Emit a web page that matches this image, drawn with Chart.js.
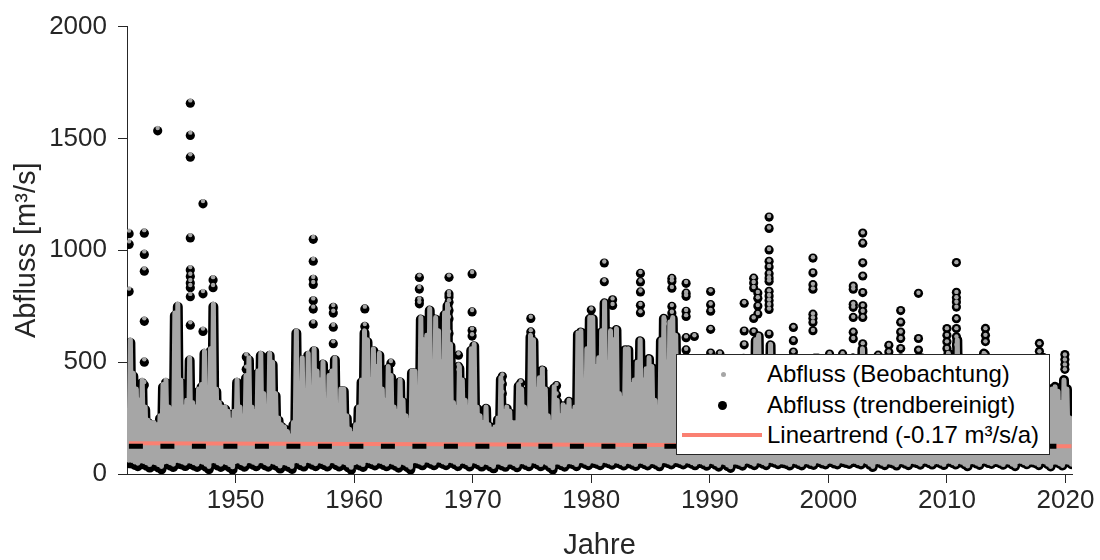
<!DOCTYPE html>
<html>
<head>
<meta charset="utf-8">
<script src="https://cdn.jsdelivr.net/npm/chart.js@4.4.1/dist/chart.umd.min.js"></script>
<style>
  html, body { margin: 0; padding: 0; background: #ffffff; }
  #wrap { position: relative; width: 1100px; height: 560px; overflow: hidden; }
  #c { position: absolute; left: 0; top: 0; }
  #legend { position: absolute; left: 676px; top: 354px; width: 374px; height: 101px; box-sizing: border-box;
            background: #ffffff; border: 1px solid #262626; font-family: "Liberation Sans", Arial, sans-serif;
            font-size: 24px; color: #000000; }
  #legend .txt { position: absolute; left: 90px; height: 30px; line-height: 30px; white-space: nowrap; }
  #legend .mk { position: absolute; border-radius: 50%; }
</style>
</head>
<body>
<div id="wrap">
  <canvas id="c" width="1100" height="560"></canvas>
  <div id="legend">
    <div class="mk" style="left:43.5px;top:16.5px;width:5px;height:5px;background:#a6a6a6;"></div>
    <div class="txt" style="top:4px;">Abfluss (Beobachtung)</div>
    <div class="mk" style="left:40.5px;top:45.5px;width:9px;height:9px;background:#000000;"></div>
    <div class="txt" style="top:35px;">Abfluss (trendbereinigt)</div>
    <div style="position:absolute;left:5px;top:78px;width:80px;height:4px;background:#fa8072;"></div>
    <div class="txt" style="top:65px;">Lineartrend (-0.17 m³/s/a)</div>
  </div>
</div>
<script>
// ---------------- data ----------------
const startYear = 1941;
const xTickValues = [1950, 1960, 1970, 1980, 1990, 2000, 2010, 2020];
const yTickValues = [0, 500, 1000, 1500, 2000];

// linear trend (legend: -0.17 m³/s per year)
const trendSlope = -0.17;
const trendYears = [1941.0, 2020.5];
const trendValues = [137, 123.5];
const detrendedMean = 124;

// seasonal high flows per year: [Jan-Mar, Apr-Jun, Jul-Sep, Oct-Dec]
const spikes1940s = [
  600,450,380,330,  420,300,240,230,  230,220,260,400,  420,300,280,720,  760,420,300,330,
  520,320,300,380,  400,550,320,560,  760,380,320,300,  300,280,240,280
];
const spikes1950s = [
  420,300,260,440,  520,300,280,460,  540,360,300,540,  500,360,250,220,  210,190,170,230,
  640,380,520,350,  540,380,560,460,  420,500,330,440,  460,520,300,380,  380,260,200,180
];
const spikes1960s = [
  220,300,420,640,  600,420,560,480,  540,380,330,480,  440,300,280,420,  330,260,240,460,
  460,380,700,600,  620,740,450,700,  640,500,720,760,  580,320,300,480,  420,330,300,560
];
const spikes1970s = [
  580,300,260,230,  300,220,200,210,  250,430,280,300,  280,230,230,400,  380,300,280,620,
  600,380,430,470,  380,260,230,390,  330,260,310,300,  330,280,300,630,  640,400,560,700
];
const spikes1980s = [
  700,480,520,640,  770,500,640,600,  650,360,340,560,  560,400,420,500,  600,420,470,520,
  480,330,300,600,  700,500,680,700,  620,480,400,520,  520,460,380,450,  420,360,320,450
];
const spikes1990s = [
  520,400,330,380,  400,330,300,380,  380,320,300,520,  500,420,360,600,  620,480,400,480,
  580,480,380,450,  420,360,320,420,  520,400,340,440,  480,380,340,520,  520,440,380,460
];
const spikes2000s = [
  520,420,360,480,  520,420,380,500,  520,420,360,560,  520,380,280,420,  520,400,340,400,
  520,380,340,380,  520,400,330,420,  480,380,340,520,  480,400,360,440,  460,380,320,460
];
const spikes2010s = [
  540,400,360,600,  520,380,320,380,  480,360,320,450,  540,420,340,400,  460,360,320,400,
  480,360,300,350,  480,400,320,380,  400,330,300,480,  520,380,300,380,  390,370,320,420
];
const spikes2020 = [380, 250];

// low flows between the high flows: [1 Jan, 1 Apr, 1 Jul, 1 Oct]
const troughs1940s = [
  62,60,54,48,  58,56,50,42,  52,50,42,34,  54,56,50,44,  60,58,54,48,
  58,56,50,44,  56,52,44,34,  58,58,50,44,  54,50,42,32
];
const troughs1950s = [
  56,58,50,44,  58,58,52,46,  58,58,50,44,  56,52,46,36,  50,48,42,34,
  58,58,50,44,  60,58,52,46,  58,56,50,44,  58,58,50,44,  54,50,40,30
];
const troughs1960s = [
  50,54,48,42,  60,58,54,48,  58,56,50,44,  56,52,46,38,  52,48,40,30,
  58,58,54,48,  62,60,54,48,  62,60,54,48,  60,58,52,44,  56,56,50,42
];
const troughs1970s = [
  58,56,50,42,  52,50,42,34,  52,52,46,40,  52,52,46,38,  54,54,48,42,
  58,56,50,42,  54,48,38,28,  52,52,46,40,  54,54,50,42,  58,58,52,46
];
const troughs1980s = [
  58,56,52,46,  60,58,54,48,  58,56,50,44,  56,54,48,42,  56,56,50,44,
  54,54,48,40,  58,58,54,48,  58,58,54,48,  58,56,50,44,  54,54,48,42
];
const troughs1990s = [
  56,54,46,38,  52,50,40,32,  52,52,48,42,  56,56,50,44,  58,56,50,44,
  60,58,54,48,  54,52,48,42,  56,54,48,42,  54,54,48,44,  58,56,50,46
];
const troughs2000s = [
  56,56,50,46,  58,56,52,48,  56,56,50,46,  58,54,44,34,  54,54,48,42,
  54,52,48,40,  54,54,48,42,  56,54,50,44,  56,56,50,44,  54,54,48,42
];
const troughs2010s = [
  56,56,50,44,  56,52,44,36,  54,54,48,42,  56,56,50,46,  54,54,48,42,
  54,52,44,36,  56,56,50,44,  52,52,48,40,  56,54,44,34,  52,52,46,38
];
const troughs2020 = [54, 52, 44];

// isolated flood peaks standing above the dense cloud
const eventYears = [
  1941.02, 1942.30, 1943.43, 1946.18, 1947.25, 1948.10, 1950.90, 1956.55, 1958.24, 1960.90,
  1963.10, 1965.50, 1968.00, 1968.80, 1969.95, 1972.50, 1974.05, 1974.90, 1975.90, 1977.07,
  1980.00, 1981.10, 1981.80, 1984.15, 1986.20, 1986.80, 1988.00, 1988.70, 1990.07, 1990.85,
  1992.90, 1993.70, 1994.05, 1995.00, 1997.05, 1998.70, 2000.10, 2001.20, 2002.10, 2002.90,
  2004.20, 2005.10, 2006.10, 2007.60, 2010.00, 2010.80, 2013.25, 2017.80, 2019.95
];
const eventPeaks = [
  [1088,1040,829], [1090,995,920,696,513,411], [1547], [1670,1526,1429,1068,925,895,867,845,805,678],
  [1220,818,650], [880,845], [535,480], [1060,962,881,858,785,748,681], [755,730,667,593], [748,670],
  [505,432], [888,836,785,770], [888,814,800,777,740,703,637], [540,490,467], [903,733,650,625],
  [445,410,368], [415,357], [703,643], [470], [402,360],
  [740,700], [950,866], [785,760], [903,865,820,760,727], [688,672], [880,866,836,755,725,690],
  [858,814,800,733,710,615,560], [620], [821,762,733,652,546], [542],
  [768,644,582], [880,858,836,700,640], [814,790,755,720,610],
  [1153,1102,1006,955,930,900,880,866,821,800,780,760,740,630], [659,600,549],
  [969,903,850,830,718,700,681,644], [540], [540], [843,829,762,748,703,637,608],
  [1080,1035,947,888,814,755,730,703,585],
  [534], [578,548], [733,681,637,608,563], [810,608,556], [652,622,593,563],
  [947,814,790,770,748,696,652,615,578], [652,622,593,534], [585,549], [534,512,490,468]
];

// ---------------- build series ----------------
const spikes = [].concat(spikes1940s, spikes1950s, spikes1960s, spikes1970s,
                         spikes1980s, spikes1990s, spikes2000s, spikes2010s, spikes2020);
const troughs = [].concat(troughs1940s, troughs1950s, troughs1960s, troughs1970s,
                          troughs1980s, troughs1990s, troughs2000s, troughs2010s, troughs2020);
const obsMass = [];
for (let i = 0; i < troughs.length; i++) {
  const t = startYear + i / 4;
  obsMass.push({ x: t, y: troughs[i] });
  if (i < spikes.length) obsMass.push({ x: t + 1 / 8, y: spikes[i] });
}
const obsPeaks = [];
eventYears.forEach((t, k) => eventPeaks[k].forEach(v => obsPeaks.push({ x: t, y: v })));

const tEnd = trendYears[1];
const detrend = p => ({ x: p.x, y: p.y - trendSlope * (p.x - tEnd) });
const detMass = obsMass.map(detrend);
const detPeaks = obsPeaks.map(detrend);
const trendLine = trendYears.map((t, i) => ({ x: t, y: trendValues[i] }));
const meanLine = trendYears.map(t => ({ x: t, y: detrendedMean }));

// ---------------- chart ----------------
const FONT = '"Liberation Sans", Arial, sans-serif';
const AX = '#262626';
const GRAY = '#a6a6a6';
const SOLID = [1000000, 1];   // one continuous dash: keeps every vertex of the dense series
Chart.defaults.font.family = FONT;
Chart.defaults.color = AX;

new Chart(document.getElementById('c'), {
  type: 'scatter',
  data: {
    datasets: [
      { label: 'mean', data: meanLine, showLine: true, pointRadius: 0, borderColor: '#000000',
        borderWidth: 5, borderDash: [14, 17.5], borderCapStyle: 'butt' },
      { label: 'Lineartrend (-0.17 m³/s/a)', data: trendLine, showLine: true, pointRadius: 0,
        borderColor: '#fa8072', borderWidth: 4 },
      { label: 'Abfluss (Beobachtung) peaks', data: obsPeaks, showLine: false, pointRadius: 2.2,
        pointBorderWidth: 0, backgroundColor: GRAY, borderColor: GRAY },
      { label: 'Abfluss (Beobachtung)', data: obsMass, showLine: true, pointRadius: 0,
        borderColor: GRAY, borderWidth: 5, borderDash: SOLID,
        borderJoinStyle: 'round', borderCapStyle: 'round', tension: 0 },
      { label: 'Abfluss (trendbereinigt) peaks', data: detPeaks, showLine: false, pointRadius: 4.6,
        pointBorderWidth: 0, backgroundColor: '#000000', borderColor: '#000000' },
      { label: 'Abfluss (trendbereinigt)', data: detMass, showLine: true, pointRadius: 0,
        borderColor: '#000000', borderWidth: 10, borderDash: SOLID,
        borderJoinStyle: 'round', borderCapStyle: 'round', tension: 0 }
    ]
  },
  options: {
    responsive: false,
    animation: false,
    devicePixelRatio: 1,
    layout: { padding: { left: 0, right: 28, top: 22, bottom: 0 } },
    plugins: { legend: { display: false }, tooltip: { enabled: false } },
    scales: {
      x: {
        type: 'linear', min: 1940.84, max: 2020.55,
        afterBuildTicks: s => { s.ticks = xTickValues.map(v => ({ value: v })); },
        afterFit: s => { s.height = 86; },
        ticks: { color: AX, font: { size: 26, family: FONT }, padding: 2, maxRotation: 0, autoSkip: false,
                 callback: v => String(v) },
        grid: { drawOnChartArea: false, drawTicks: true, tickLength: 9, color: AX, lineWidth: 1 },
        border: { display: true, color: AX, width: 1 },
        title: { display: true, text: 'Jahre', color: AX, font: { size: 29, family: FONT, lineHeight: 1 },
                 padding: { top: 0, bottom: 0 } }
      },
      y: {
        type: 'linear', min: 0, max: 2000,
        afterBuildTicks: s => { s.ticks = yTickValues.map(v => ({ value: v })); },
        afterFit: s => { s.width = 127; },
        ticks: { color: AX, font: { size: 26, family: FONT }, padding: 11, callback: v => String(v) },
        grid: { drawOnChartArea: false, drawTicks: true, tickLength: 9, color: AX, lineWidth: 1 },
        border: { display: true, color: AX, width: 1 },
        title: { display: true, text: 'Abfluss [m³/s]', color: AX, font: { size: 29, family: FONT, lineHeight: 1 },
                 padding: { top: 12, bottom: 0 } }
      }
    }
  }
});
</script>
</body>
</html>
